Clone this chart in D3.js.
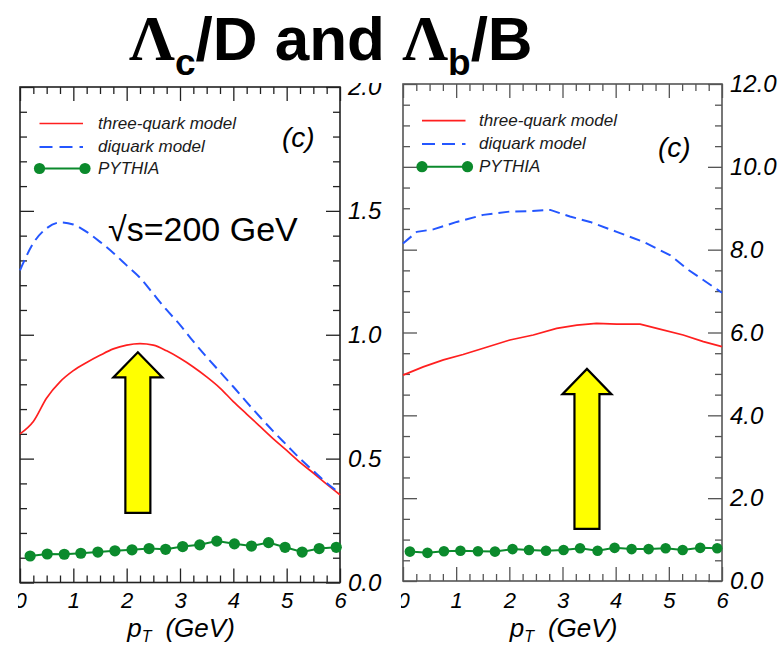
<!DOCTYPE html>
<html>
<head>
<meta charset="utf-8">
<script src="https://cdn.jsdelivr.net/npm/d3@7"></script>
<style>
  html, body { margin: 0; padding: 0; background: #fff; }
  svg { display: block; font-family: "Liberation Sans", Arial, Helvetica, sans-serif; }
</style>
</head>
<body>
<svg id="chart" width="782" height="646"></svg>
<script>
// ---------------- data ----------------
const seriesNames = ["three-quark model", "diquark model", "PYTHIA"];
const xTickLabels = [0, 1, 2, 3, 4, 5, 6];

// Lambda_c / D  (sqrt(s) = 200 GeV)
const cThreePt = [0, 0.25, 0.5, 0.75, 1.0, 1.25, 1.5, 1.75, 2.0, 2.25, 2.5, 2.75, 3.0, 3.25, 3.5, 3.75, 4.0, 4.25, 4.5, 4.75, 5.0, 5.25, 5.5, 5.75, 6.0];
const cThree   = [0.60, 0.65, 0.745, 0.81, 0.855, 0.888, 0.917, 0.943, 0.958, 0.964, 0.958, 0.935, 0.905, 0.87, 0.83, 0.785, 0.73, 0.68, 0.63, 0.58, 0.533, 0.485, 0.442, 0.397, 0.354];
const cDiPt    = [0, 0.25, 0.5, 0.75, 1.0, 1.25, 1.5, 1.75, 2.0, 2.25, 2.5, 2.75, 3.0, 3.25, 3.5, 3.75, 4.0, 4.25, 4.5, 4.75, 5.0, 5.25, 5.5, 5.75, 6.0];
const cDi      = [1.26, 1.37, 1.43, 1.453, 1.445, 1.415, 1.375, 1.33, 1.28, 1.23, 1.165, 1.10, 1.04, 0.973, 0.91, 0.85, 0.79, 0.728, 0.668, 0.61, 0.555, 0.50, 0.45, 0.402, 0.36];
const cPyPt    = [0.19, 0.51, 0.83, 1.14, 1.46, 1.78, 2.10, 2.42, 2.73, 3.05, 3.37, 3.69, 4.02, 4.34, 4.66, 4.97, 5.29, 5.61, 5.93];
const cPy      = [0.107, 0.115, 0.114, 0.118, 0.123, 0.128, 0.132, 0.137, 0.134, 0.145, 0.152, 0.167, 0.156, 0.147, 0.161, 0.142, 0.123, 0.137, 0.142];
const cYTickLabels = [0.0, 0.5, 1.0, 1.5, 2.0];

// Lambda_b / B
const bThreePt = [0, 0.38, 0.76, 1.13, 1.51, 2.01, 2.45, 2.89, 3.27, 3.64, 4.02, 4.46, 4.83, 5.27, 5.65, 6.0];
const bThree   = [4.97, 5.17, 5.34, 5.47, 5.62, 5.82, 5.94, 6.10, 6.18, 6.22, 6.20, 6.20, 6.08, 5.94, 5.78, 5.66];
const bDiPt    = [0, 0.26, 0.57, 1.01, 1.51, 2.01, 2.39, 2.77, 3.14, 3.52, 4.02, 4.52, 5.02, 5.37, 6.0];
const bDi      = [8.15, 8.43, 8.49, 8.67, 8.84, 8.92, 8.93, 8.96, 8.80, 8.67, 8.43, 8.19, 7.87, 7.51, 6.96];
const bPyPt    = [0.13, 0.46, 0.77, 1.08, 1.41, 1.73, 2.06, 2.37, 2.69, 3.02, 3.33, 3.66, 3.98, 4.30, 4.62, 4.94, 5.26, 5.59, 5.91];
const bPy      = [0.71, 0.68, 0.72, 0.73, 0.72, 0.71, 0.77, 0.75, 0.73, 0.75, 0.79, 0.73, 0.80, 0.77, 0.77, 0.79, 0.75, 0.80, 0.79];
const bYTickLabels = [0.0, 2.0, 4.0, 6.0, 8.0, 10.0, 12.0];

// arrow annotations, in data units: [pT, tail, head base, tip]
const cArrow = [2.21, 0.281, 0.828, 0.929];
const bArrow = [3.46, 1.26, 4.51, 5.12];

// ---------------- styles ----------------
const RED = "#ff1f1f", BLUE = "#2456ff", GREEN = "#0b8a2c", YELLOW = "#ffff00";
const svg = d3.select("#chart");
const defs = svg.append("defs");

// ---------------- title ----------------
const SERIF = "'Liberation Serif', 'Times New Roman', serif";
const title = svg.append("text")
  .attr("x", 129).attr("y", 60)
  .attr("fill", "#000")
  .attr("font-weight", "bold")
  .attr("font-size", 62);
title.append("tspan").attr("font-family", SERIF).attr("font-size", 64).text("Λ");
title.append("tspan").attr("font-size", 37).attr("dy", 15).text("c");
title.append("tspan").attr("dy", -15).text("/D and ");
title.append("tspan").attr("font-family", SERIF).attr("font-size", 64).text("Λ");
title.append("tspan").attr("font-size", 37).attr("dy", 15).text("b");
title.append("tspan").attr("dy", -15).text("/B");

// ---------------- panels ----------------
const panels = [
  {
    id: "pc", x0: 20, x1: 340, yTop: 87, yBottom: 582.5, yMax: 2,
    yMinor: 0.1, yMajorStep: 0.5, yLabels: cYTickLabels, fmt: d3.format(".1f"),
    clip: [18, 83, 400, 646], frame: "#222",
    three: [cThreePt, cThree], di: [cDiPt, cDi], py: [cPyPt, cPy],
    arrow: cArrow, curve: d3.curveMonotoneX, dotR: 5.6,
    legend: { x: 19.5, text: 78, rows: [36.5, 60, 81.5] },
    cLabel: { dx: -58, y: 147 }
  },
  {
    id: "pb", x0: 403, x1: 722, yTop: 84, yBottom: 581, yMax: 12,
    yMinor: 0.5, yMajorStep: 2, yLabels: bYTickLabels, fmt: d3.format(".1f"),
    clip: [401, 0, 782, 646], frame: "#555",
    three: [bThreePt, bThree], di: [bDiPt, bDi], py: [bPyPt, bPy],
    arrow: bArrow, curve: d3.curveLinear, dotR: 5.3,
    legend: { x: 19, text: 76, rows: [36.7, 60, 82.7] },
    cLabel: { dx: -64, y: 157 }
  }
];

panels.forEach(p => {
  defs.append("clipPath").attr("id", "clip-" + p.id)
    .append("rect").attr("x", p.clip[0]).attr("y", p.clip[1])
    .attr("width", p.clip[2] - p.clip[0]).attr("height", p.clip[3] - p.clip[1]);
  const g = svg.append("g").attr("clip-path", `url(#clip-${p.id})`);

  const x = d3.scaleLinear().domain([0, 6]).range([p.x0, p.x1]);
  const y = d3.scaleLinear().domain([0, p.yMax]).range([p.yBottom, p.yTop]);

  const xMinor = d3.range(0, 6.0001, 0.25).filter(v => Math.abs(v - Math.round(v)) > 1e-6);
  const yAll = d3.range(0, p.yMax + 1e-6, p.yMinor).map(v => +v.toFixed(3));
  const isMajorY = v => Math.abs(v / p.yMajorStep - Math.round(v / p.yMajorStep)) < 1e-6;
  const yMinorVals = yAll.filter(v => !isMajorY(v));
  const yMajorVals = yAll.filter(isMajorY);

  function ticks(axis, tx, ty) {
    g.append("g").attr("transform", `translate(${tx},${ty})`)
      .call(axis)
      .call(s => s.select(".domain").remove())
      .call(s => s.selectAll("text").remove())
      .selectAll("line").attr("stroke", p.frame).attr("stroke-width", 1.3);
  }
  // inward ticks on all four sides
  ticks(d3.axisBottom(x).tickValues(xMinor).tickSize(-7), 0, p.yBottom);
  ticks(d3.axisBottom(x).tickValues(xTickLabels).tickSize(-14), 0, p.yBottom);
  ticks(d3.axisTop(x).tickValues(xMinor).tickSize(-7), 0, p.yTop);
  ticks(d3.axisTop(x).tickValues(xTickLabels).tickSize(-14), 0, p.yTop);
  ticks(d3.axisLeft(y).tickValues(yMinorVals).tickSize(-7), p.x0, 0);
  ticks(d3.axisLeft(y).tickValues(yMajorVals).tickSize(-14), p.x0, 0);
  ticks(d3.axisRight(y).tickValues(yMinorVals).tickSize(-7), p.x1, 0);
  ticks(d3.axisRight(y).tickValues(yMajorVals).tickSize(-14), p.x1, 0);

  // frame
  g.append("rect").attr("x", p.x0).attr("y", p.yTop)
    .attr("width", p.x1 - p.x0).attr("height", p.yBottom - p.yTop)
    .attr("fill", "none").attr("stroke", p.frame).attr("stroke-width", 1.6);

  // y labels on the right side
  g.append("g").attr("transform", `translate(${p.x1},0)`)
    .call(d3.axisRight(y).tickValues(p.yLabels).tickSize(0).tickPadding(8).tickFormat(p.fmt))
    .call(s => s.select(".domain").remove())
    .attr("font-family", null).attr("font-size", 24)
    .selectAll("text").attr("font-style", "italic").attr("fill", "#000");

  // x labels
  g.append("g").attr("transform", `translate(0,${p.yBottom})`)
    .call(d3.axisBottom(x).tickValues(xTickLabels).tickSize(0).tickPadding(608 - p.yBottom - 15.6).tickFormat(d3.format("d")))
    .call(s => s.select(".domain").remove())
    .attr("font-family", null).attr("font-size", 22)
    .selectAll("text").attr("font-style", "italic").attr("fill", "#000");

  // x axis title: p_T (GeV)
  const xt = g.append("text").attr("x", (p.x0 + p.x1) / 2 + 1).attr("y", 637)
    .attr("text-anchor", "middle").attr("font-size", 26).attr("font-style", "italic").attr("fill", "#000");
  xt.append("tspan").text("p");
  xt.append("tspan").attr("font-size", 16).attr("dy", 5).text("T");
  xt.append("tspan").attr("dy", -5).attr("dx", 14).text("(GeV)");

  // curves
  const line = d3.line().x(d => x(d[0])).y(d => y(d[1])).curve(p.curve);
  const pairs = arr => arr[0].map((v, i) => [v, arr[1][i]]);

  g.append("path").datum(pairs(p.three)).attr("d", line)
    .attr("fill", "none").attr("stroke", RED).attr("stroke-width", 1.7);
  g.append("path").datum(pairs(p.di)).attr("d", line)
    .attr("fill", "none").attr("stroke", BLUE).attr("stroke-width", 2)
    .attr("stroke-dasharray", "11,6");

  const pyLine = d3.line().x(d => x(d[0])).y(d => y(d[1]));
  g.append("path").datum(pairs(p.py)).attr("d", pyLine)
    .attr("fill", "none").attr("stroke", GREEN).attr("stroke-width", 2);
  g.selectAll("circle.py").data(pairs(p.py)).enter().append("circle")
    .attr("class", "py").attr("cx", d => x(d[0])).attr("cy", d => y(d[1]))
    .attr("r", p.dotR).attr("fill", GREEN);

  // legend
  const L = p.legend;
  const lx0 = p.x0 + L.x, lx1 = p.x0 + L.x + 43.5, tx = p.x0 + L.text;
  const rowY = L.rows.map(r => p.yTop + r);
  g.append("line").attr("x1", lx0).attr("x2", lx1).attr("y1", rowY[0]).attr("y2", rowY[0])
    .attr("stroke", RED).attr("stroke-width", 1.7);
  g.append("line").attr("x1", lx0).attr("x2", lx1).attr("y1", rowY[1]).attr("y2", rowY[1])
    .attr("stroke", BLUE).attr("stroke-width", 2).attr("stroke-dasharray", "13,7");
  g.append("line").attr("x1", lx0).attr("x2", lx1 + 2).attr("y1", rowY[2]).attr("y2", rowY[2])
    .attr("stroke", GREEN).attr("stroke-width", 2);
  [lx0, lx1 + 2].forEach(cx => g.append("circle").attr("cx", cx).attr("cy", rowY[2]).attr("r", 5.6).attr("fill", GREEN));
  seriesNames.forEach((name, i) => {
    g.append("text").attr("x", tx).attr("y", rowY[i] + 5)
      .attr("font-size", 17).attr("font-style", "italic").attr("fill", "#1a1a1a").text(name);
  });

  // panel tag
  g.append("text").attr("x", p.x1 + p.cLabel.dx).attr("y", p.cLabel.y)
    .attr("font-size", 28).attr("font-style", "italic").attr("fill", "#000").text("(c)");

  // highlight arrow
  const [ax, aTail, aHead, aTip] = p.arrow;
  const cx = x(ax), sw = 12.5, hw = 24.5;
  const pts = [
    [cx - sw, y(aTail)], [cx - sw, y(aHead)], [cx - hw, y(aHead)], [cx, y(aTip)],
    [cx + hw, y(aHead)], [cx + sw, y(aHead)], [cx + sw, y(aTail)]
  ];
  g.append("path").attr("d", "M" + pts.map(q => q.join(",")).join("L") + "Z")
    .attr("fill", YELLOW).attr("stroke", "#000").attr("stroke-width", 2.2)
    .attr("stroke-linejoin", "miter");
});

// collision energy label
svg.append("text").attr("x", 108).attr("y", 241)
  .attr("font-size", 34).attr("fill", "#000").text("√s=200 GeV");
</script>
</body>
</html>
